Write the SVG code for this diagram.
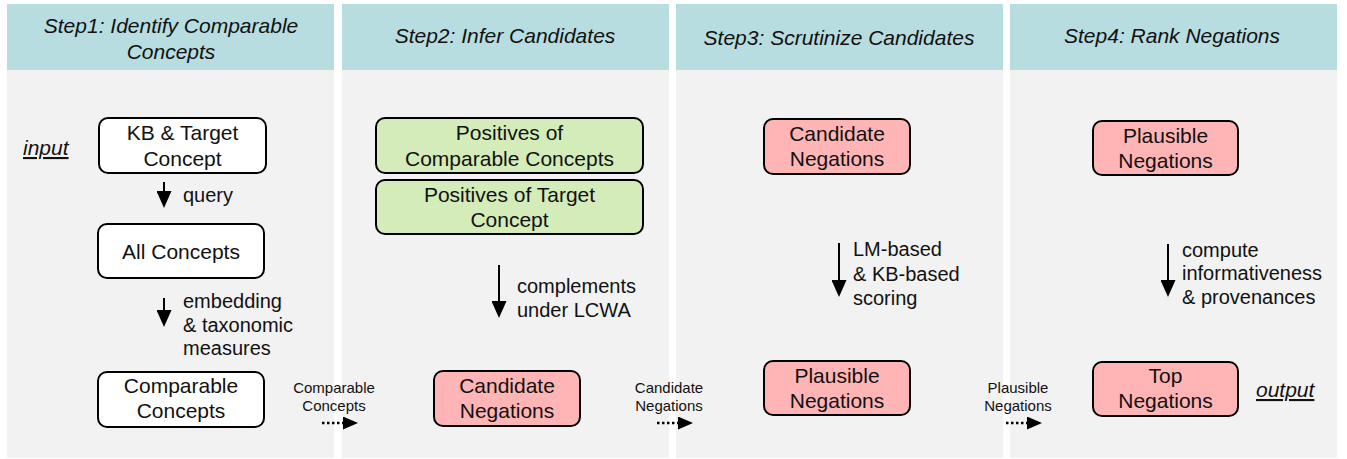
<svg xmlns="http://www.w3.org/2000/svg" width="1347" height="459" viewBox="0 0 1347 459">
<defs>
<style>
.hdr{fill:#B7DDE0}
.body{fill:#F2F2F2}
.ht{font-family:"Liberation Sans",Arial,sans-serif;font-size:21px;font-style:italic;fill:#111;text-anchor:middle}
.nt{font-family:"Liberation Sans",Arial,sans-serif;font-size:21px;fill:#111;text-anchor:middle}
.lt{font-family:"Liberation Sans",Arial,sans-serif;font-size:20px;fill:#111}
.st{font-family:"Liberation Sans",Arial,sans-serif;font-size:15px;fill:#111;text-anchor:middle}
.io{font-family:"Liberation Sans",Arial,sans-serif;font-size:21px;font-style:italic;fill:#111;text-decoration:underline}
.white{fill:#fff;stroke:#000;stroke-width:2}
.green{fill:#D3ECB9;stroke:#000;stroke-width:2}
.pink{fill:#FFB5B5;stroke:#000;stroke-width:2}
.arr{stroke:#000;stroke-width:2;fill:none;marker-end:url(#ah)}
.dot{stroke:#000;stroke-width:2.5;fill:none;stroke-dasharray:2.5,2.5;marker-end:url(#dh)}
</style>
<marker id="ah" markerUnits="userSpaceOnUse" markerWidth="17" markerHeight="15" viewBox="0 0 17 15" refX="2" refY="7.5" orient="auto"><path d="M0,0 L17,7.5 L0,15 z" fill="#000"/></marker>
<marker id="dh" markerUnits="userSpaceOnUse" markerWidth="15" markerHeight="13" viewBox="0 0 15 13" refX="0" refY="6.5" orient="auto"><path d="M0,0 L15,6.5 L0,13 z" fill="#000"/></marker>
</defs>
<rect width="1347" height="459" fill="#fff"/>
<g id="panels">
<rect class="body" x="7" y="70" width="327" height="388"/>
<rect class="hdr" x="7" y="4" width="327" height="66"/>
<rect class="body" x="342" y="70" width="327" height="388"/>
<rect class="hdr" x="342" y="4" width="327" height="66"/>
<rect class="body" x="676" y="70" width="327" height="388"/>
<rect class="hdr" x="676" y="4" width="327" height="66"/>
<rect class="body" x="1010" y="70" width="327" height="388"/>
<rect class="hdr" x="1010" y="4" width="327" height="66"/>
<text class="ht" x="171" y="33">Step1: Identify Comparable</text>
<text class="ht" x="171" y="59">Concepts</text>
<text class="ht" x="505" y="43">Step2: Infer Candidates</text>
<text class="ht" x="839" y="45">Step3: Scrutinize Candidates</text>
<text class="ht" x="1172" y="43">Step4: Rank Negations</text>
<text class="io" x="23" y="155">input</text>
<text class="io" x="1256" y="397">output</text>
</g>
<g id="kb">
<rect class="white" x="99" y="118" width="167" height="55" rx="9"/>
<text class="nt" x="182.5" y="140">KB &amp; Target</text>
<text class="nt" x="182.5" y="166">Concept</text>
</g>
<g id="all">
<rect class="white" x="98" y="224" width="166" height="54" rx="9"/>
<text class="nt" x="181" y="259">All Concepts</text>
</g>
<g id="comparable">
<rect class="white" x="98" y="372" width="166" height="55" rx="9"/>
<text class="nt" x="181" y="393">Comparable</text>
<text class="nt" x="181" y="418">Concepts</text>
</g>
<g id="poscomp">
<rect class="green" x="376" y="118" width="267" height="55" rx="9"/>
<text class="nt" x="509.5" y="140">Positives of</text>
<text class="nt" x="509.5" y="166">Comparable Concepts</text>
</g>
<g id="postarget">
<rect class="green" x="376" y="180" width="267" height="54" rx="9"/>
<text class="nt" x="509.5" y="202">Positives of Target</text>
<text class="nt" x="509.5" y="227">Concept</text>
</g>
<g id="cand2">
<rect class="pink" x="434" y="371" width="146" height="55" rx="9"/>
<text class="nt" x="507" y="393">Candidate</text>
<text class="nt" x="507" y="418">Negations</text>
</g>
<g id="cand3">
<rect class="pink" x="764" y="119" width="146" height="55" rx="9"/>
<text class="nt" x="837" y="141">Candidate</text>
<text class="nt" x="837" y="166">Negations</text>
</g>
<g id="plaus3">
<rect class="pink" x="764" y="361" width="146" height="54" rx="9"/>
<text class="nt" x="837" y="383">Plausible</text>
<text class="nt" x="837" y="408">Negations</text>
</g>
<g id="plaus4">
<rect class="pink" x="1093" y="121" width="145" height="54" rx="9"/>
<text class="nt" x="1165.5" y="143">Plausible</text>
<text class="nt" x="1165.5" y="168">Negations</text>
</g>
<g id="top">
<rect class="pink" x="1093" y="362" width="145" height="54" rx="9"/>
<text class="nt" x="1165.5" y="383">Top</text>
<text class="nt" x="1165.5" y="408">Negations</text>
</g>
<g id="connectors">
<line class="arr" x1="164" y1="182" x2="164" y2="193"/>
<text class="lt" x="183" y="202">query</text>
<line class="arr" x1="164" y1="298" x2="164" y2="312"/>
<text class="lt" x="183" y="308">embedding</text>
<text class="lt" x="183" y="332">&amp; taxonomic</text>
<text class="lt" x="183" y="355">measures</text>
<line class="arr" x1="499" y1="265" x2="499" y2="303"/>
<text class="lt" x="517" y="293">complements</text>
<text class="lt" x="517" y="317">under LCWA</text>
<line class="arr" x1="839" y1="243" x2="839" y2="282"/>
<text class="lt" x="853" y="256">LM-based</text>
<text class="lt" x="853" y="281">&amp; KB-based</text>
<text class="lt" x="853" y="305">scoring</text>
<line class="arr" x1="1168" y1="244" x2="1168" y2="282"/>
<text class="lt" x="1182" y="257">compute</text>
<text class="lt" x="1182" y="280">informativeness</text>
<text class="lt" x="1182" y="304">&amp; provenances</text>
<line class="dot" x1="322" y1="423" x2="343" y2="423"/>
<text class="st" x="334" y="393">Comparable</text>
<text class="st" x="334" y="411">Concepts</text>
<line class="dot" x1="657" y1="423" x2="678" y2="423"/>
<text class="st" x="669" y="393">Candidate</text>
<text class="st" x="669" y="411">Negations</text>
<line class="dot" x1="1006" y1="423" x2="1027" y2="423"/>
<text class="st" x="1018" y="393">Plausible</text>
<text class="st" x="1018" y="411">Negations</text>
</g>
</svg>
